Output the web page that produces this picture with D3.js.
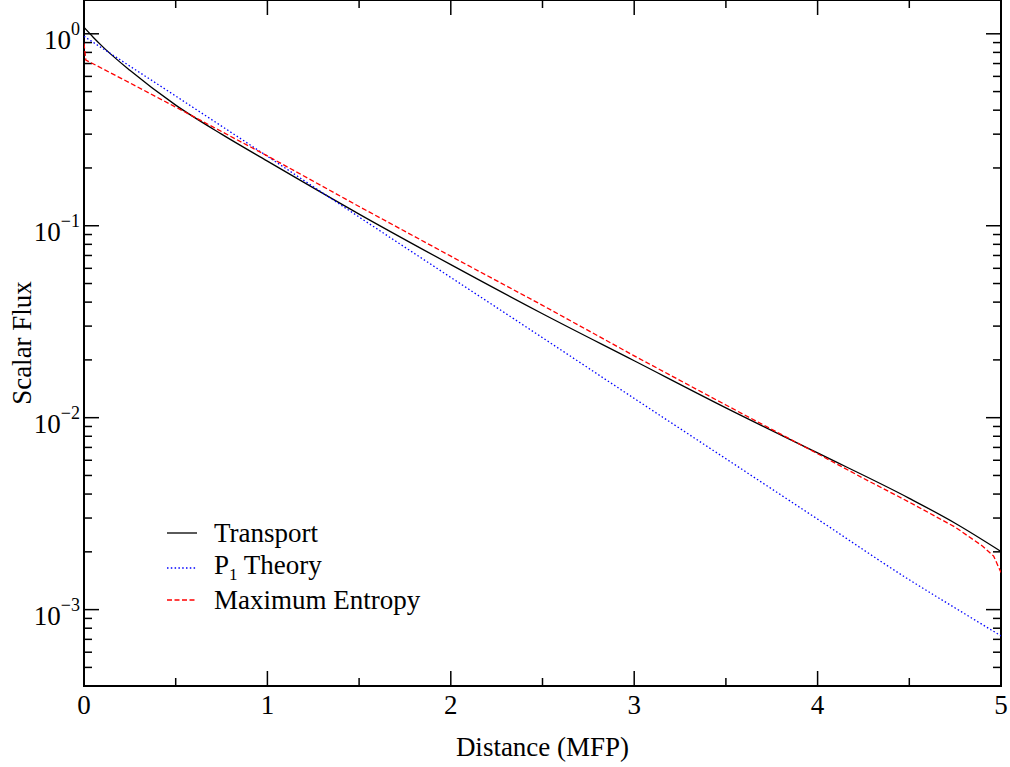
<!DOCTYPE html>
<html>
<head>
<meta charset="utf-8">
<script src="https://cdn.jsdelivr.net/npm/d3@7"></script>
<style>
body { margin: 0; background: #fff; }
svg { font-family: "Liberation Serif", "Times New Roman", serif; }
</style>
</head>
<body>
<div id="a"></div>
<script>
// values
var transportX = [0, 0.05, 0.1, 0.25, 0.5, 0.75, 1, 1.5, 2, 2.5, 3, 3.5, 4, 4.5, 4.75, 5];
var transportY = [1.08, 0.96, 0.86, 0.645, 0.425, 0.30, 0.217, 0.115, 0.0627, 0.0348, 0.0198, 0.01125, 0.00655, 0.0038, 0.00282, 0.00201];

var p1X = [0, 0.5, 1, 1.5, 2, 2.5, 3, 3.5, 4, 4.5, 4.75, 5];
var p1Y = [0.97, 0.474, 0.230, 0.111, 0.0538, 0.0261, 0.0126, 0.00611, 0.00296, 0.00143, 0.00102, 0.00073];

var entropyX = [0, 0.01, 0.25, 0.5, 1, 1.5, 2, 2.5, 3, 3.5, 4, 4.25, 4.5, 4.75, 4.9, 4.96, 5];
var entropyY = [0.89, 0.73, 0.555, 0.415, 0.231, 0.126, 0.0694, 0.0385, 0.0210, 0.01164, 0.00649, 0.00483, 0.00363, 0.00269, 0.00214, 0.0019, 0.00156];

var xMajor = [0, 1, 2, 3, 4, 5];
var xMinor = [0.5, 1.5, 2.5, 3.5, 4.5];
var yDecades = [0, -1, -2, -3];

var legendNames = ["Transport", "P1 Theory", "Maximum Entropy"];

var W = 1010, H = 767;
var L = 84, R = 1001, T = 0, B = 686;

var svg = d3.select("#a").append("svg")
	.attr("width", W)
	.attr("height", H)
	.style("background-color", "#FFF");

var x = d3.scaleLinear().domain([0, 5]).range([L, R]);
var y = d3.scaleLog().domain([4e-4, 1.5]).range([B, T]);

svg.append("clipPath").attr("id", "clip")
	.append("rect").attr("x", L).attr("y", T).attr("width", R - L).attr("height", B - T);

// minor y ticks 2..9 per decade
var yMinor = [];
for (var e = -4; e <= 0; e++) {
	for (var m = 2; m <= 9; m++) {
		var v = m * Math.pow(10, e);
		if (v > 4e-4 && v < 1.5) yMinor.push(v);
	}
}
var yMajor = yDecades.map(function(d){ return Math.pow(10, d); });

var ticks = svg.append("g").attr("stroke", "#000").attr("stroke-width", 1.5);

// bottom / top ticks
function xt(vals, len) {
	vals.forEach(function(v){
		ticks.append("line").attr("x1", x(v)).attr("x2", x(v)).attr("y1", B).attr("y2", B - len);
		ticks.append("line").attr("x1", x(v)).attr("x2", x(v)).attr("y1", T).attr("y2", T + len);
	});
}
xt(xMajor, 15);
xt(xMinor, 8);

function yt(vals, len) {
	vals.forEach(function(v){
		ticks.append("line").attr("x1", L).attr("x2", L + len).attr("y1", y(v)).attr("y2", y(v));
		ticks.append("line").attr("x1", R).attr("x2", R - len).attr("y1", y(v)).attr("y2", y(v));
	});
}
yt(yMajor, 15);
yt(yMinor, 8);

// frame
svg.append("rect")
	.attr("x", L).attr("y", T)
	.attr("width", R - L).attr("height", B - T)
	.attr("fill", "none")
	.attr("stroke", "#000")
	.attr("stroke-width", 2);

// x tick labels
svg.selectAll("text.xl")
	.data(xMajor)
	.enter()
	.append("text")
	.attr("class", "xl")
	.attr("x", function(d){ return x(d); })
	.attr("y", 714)
	.attr("text-anchor", "middle")
	.attr("font-size", 27)
	.text(function(d){ return d; });

// y tick labels 10^n
yDecades.forEach(function(d){
	var t = svg.append("text")
		.attr("x", 80)
		.attr("y", y(Math.pow(10, d)) + 15)
		.attr("text-anchor", "end")
		.attr("font-size", 27);
	t.append("tspan").text("10");
	t.append("tspan").attr("font-size", 18).attr("dy", -14).text(d == 0 ? "0" : "\u2212" + (-d));
});

// axis titles
svg.append("text")
	.attr("x", (L + R) / 2)
	.attr("y", 756)
	.attr("text-anchor", "middle")
	.attr("font-size", 27)
	.text("Distance (MFP)");

svg.append("text")
	.attr("transform", "translate(31," + ((T + B) / 2) + ") rotate(-90)")
	.attr("text-anchor", "middle")
	.attr("font-size", 27)
	.text("Scalar Flux");

// curves
var smooth = d3.line()
	.x(function(d){ return x(d[0]); })
	.y(function(d){ return y(d[1]); })
	.curve(d3.curveMonotoneX);
var straight = d3.line()
	.x(function(d){ return x(d[0]); })
	.y(function(d){ return y(d[1]); });

var series = [
	{ xs: transportX, ys: transportY, color: "#000", dash: null, w: 1.3, line: smooth },
	{ xs: p1X, ys: p1Y, color: "#0000ff", dash: "1.5,2.3", w: 1.3, line: smooth },
	{ xs: entropyX, ys: entropyY, color: "#ff0000", dash: "5,2.5", w: 1.3, line: straight }
];

var plot = svg.append("g").attr("clip-path", "url(#clip)");
series.forEach(function(s){
	plot.append("path")
		.datum(d3.zip(s.xs, s.ys))
		.attr("d", s.line)
		.attr("fill", "none")
		.attr("stroke", s.color)
		.attr("stroke-width", s.w)
		.attr("stroke-dasharray", s.dash);
});

// legend
var legY = [533, 568, 600];
var legBase = [542, 574, 609];
series.forEach(function(s, i){
	svg.append("line")
		.attr("x1", 167).attr("x2", 197)
		.attr("y1", legY[i]).attr("y2", legY[i])
		.attr("stroke", s.color)
		.attr("stroke-width", s.w)
		.attr("stroke-dasharray", s.dash);
	var t = svg.append("text")
		.attr("x", 214)
		.attr("y", legBase[i])
		.attr("font-size", 27);
	if (i == 1) {
		t.append("tspan").text("P");
		t.append("tspan").attr("font-size", 17).attr("dy", 6).text("1");
		t.append("tspan").attr("dy", -6).text(" Theory");
	} else {
		t.text(legendNames[i]);
	}
});
</script>
</body>
</html>
